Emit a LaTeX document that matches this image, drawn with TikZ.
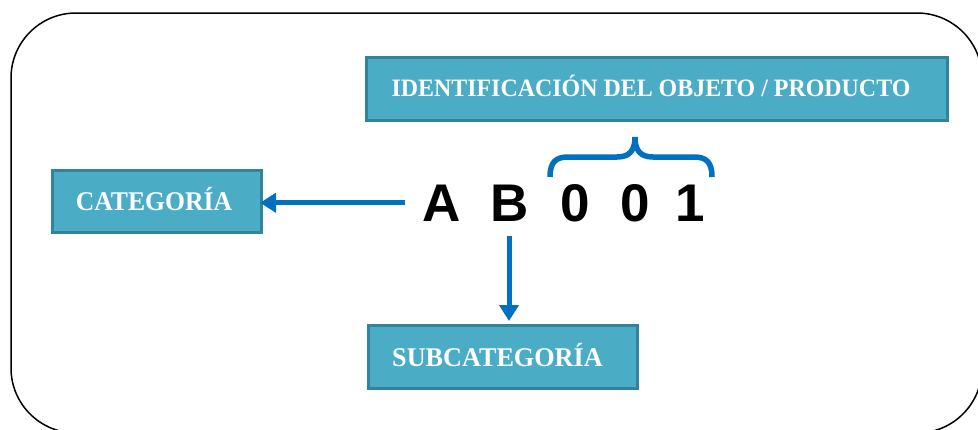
\documentclass[tikz,border=0pt]{standalone}
\usepackage{fontspec}
\setmainfont{Liberation Serif}
\newfontfamily\digitfont{Liberation Sans}
\usetikzlibrary{arrows.meta}
\definecolor{boxfill}{HTML}{4BACC6}
\definecolor{boxline}{HTML}{31849B}
\definecolor{arrowblue}{HTML}{0070C0}
\begin{document}
\begin{tikzpicture}[x=1pt,y=-1pt,
  labelbox/.style={draw=boxline, line width=3pt, fill=boxfill, text=white,
    font=\bfseries\fontsize{27}{30}\selectfont, inner sep=0pt,
    text height=18pt, text depth=0pt},
  conn/.style={draw=arrowblue, line width=5pt, -{Triangle[length=16pt,width=19pt]}},
  bracestyle/.style={draw=arrowblue, line width=5.5pt},
  codechar/.style={font=\digitfont\bfseries\fontsize{53}{60}\selectfont, anchor=base, inner sep=0pt}]
\clip (0,0) rectangle (978,429);
\useasboundingbox (0,0) rectangle (978,429);
\draw[line width=1.5pt, rounded corners=65pt] (11,13) rectangle (982,433);

\node[labelbox, font=\bfseries\fontsize{25}{30}\selectfont, text height=16.5pt,
  minimum width=581pt, minimum height=63pt] (ident) at (657,88.5)
  {\scalebox{0.957}[1]{IDENTIFICACIÓN DEL OBJETO / PRODUCTO}\hspace*{12pt}};
\node[labelbox, minimum width=209pt, minimum height=62pt] (cat) at (157,201.5)
  {\scalebox{0.95}[1]{CATEGORÍA}\hspace*{6pt}};
\node[labelbox, minimum width=269pt, minimum height=63pt] (sub) at (503,357)
  {\scalebox{0.97}[1]{SUBCATEGORÍA}\hspace*{11pt}};

\node[codechar] (A) at (441.5,221) {A};
\node[codechar] (B) at (510,221) {B};
\node[codechar] (d1) at (575,221) {0};
\node[codechar] (d2) at (635,221) {0};
\node[codechar] (d3) at (690,221) {1};

\draw[conn, shorten >=-3pt] ([xshift=-17pt]A.west) -- (A.west -| cat.east);
\draw[conn, shorten >=3pt] ([xshift=-1pt,yshift=-15pt]B.south) -- ([xshift=-1pt]B.south |- sub.north);

\coordinate (braceL) at (550,177);
\coordinate (braceT) at (635,137);
\coordinate (braceR) at (712,177);
\draw[bracestyle] (braceL) .. controls (550,162) and (556,157) .. (568,157) -- (617,157)
  .. controls (630,157) and (635,150) .. (braceT)
  .. controls (635,150) and (640,157) .. (653,157) -- (694,157)
  .. controls (706,157) and (712,162) .. (braceR);
\end{tikzpicture}
\end{document}
